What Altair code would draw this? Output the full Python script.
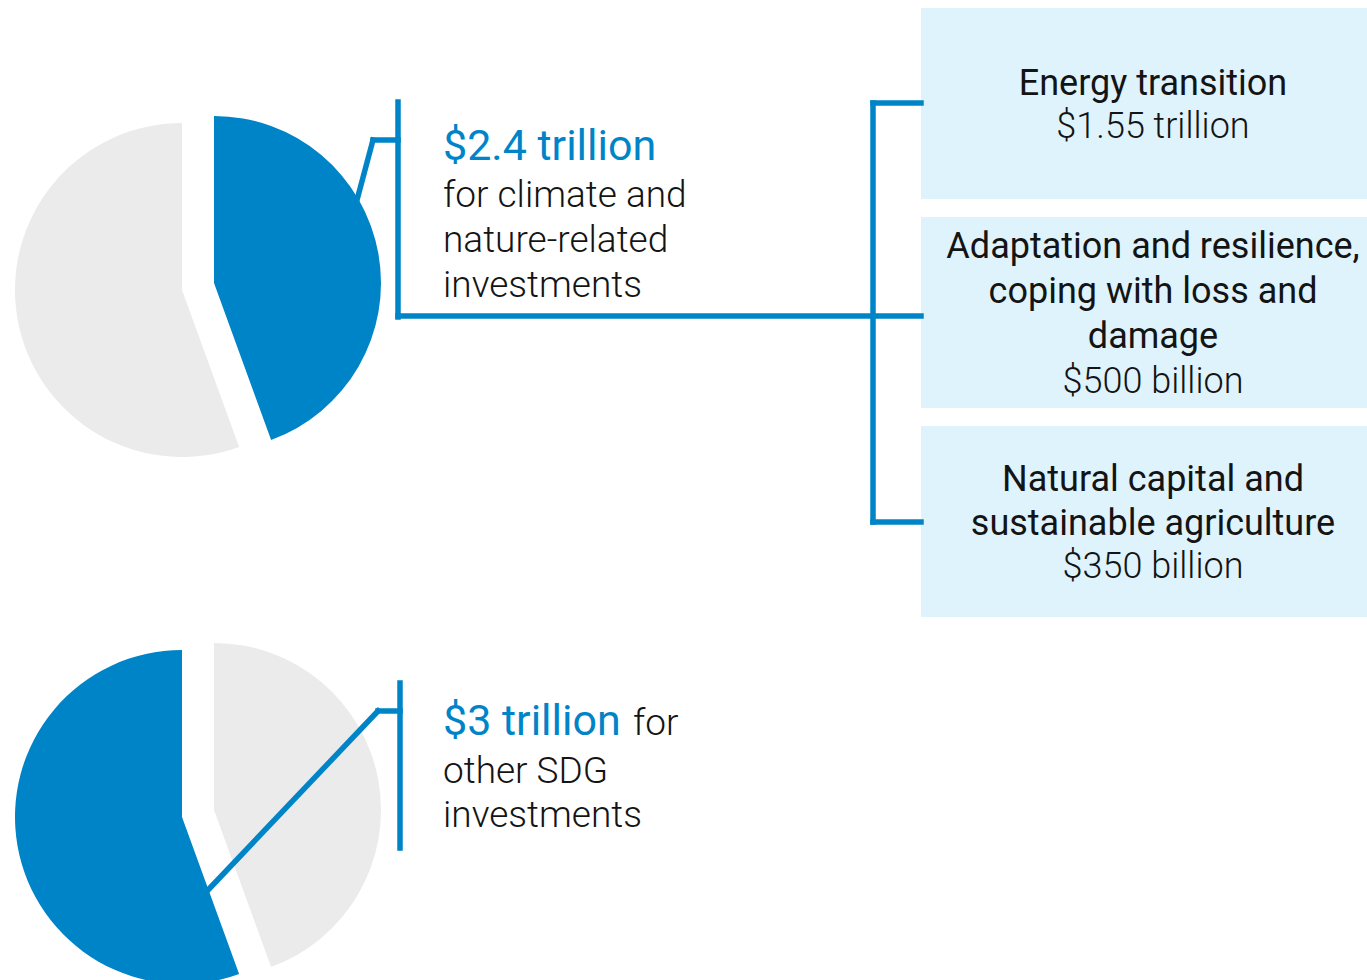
import altair as alt
import pandas as pd

# ---- data ----
categories = ["climate", "other"]
values = [2.4, 3.0]          # trillion USD
slice_order = [1, 2]

headline_top = "$2.4 trillion"
desc_top = ["for climate and", "nature-related", "investments"]
headline_bottom = "$3 trillion"
desc_bottom_first = "for"
desc_bottom = ["other SDG", "investments"]

box_titles = [
    ["Energy transition"],
    ["Adaptation and resilience,", "coping with loss and", "damage"],
    ["Natural capital and", "sustainable agriculture"],
]
box_values = ["$1.55 trillion", "$500 billion", "$350 billion"]

# ---- styles ----
BLUE = "#0084c8"
GRAY = "#ebebeb"
BOX = "#dff3fc"
INK = "#141414"
FONT = "Roboto"
LW = 5.5

df = pd.DataFrame({"category": categories, "value": values, "order": slice_order})
one = pd.DataFrame({"k": [0]})


def slice_layer(cx, cy, show, color):
    return alt.Chart(df).mark_arc(radius=167).encode(
        theta=alt.Theta("value:Q", stack=True),
        order=alt.Order("order:Q"),
        detail="category:N",
        x=alt.value(cx),
        y=alt.value(cy),
        color=alt.condition(f"datum.category == '{show}'", alt.value(color), alt.value("transparent")),
    )


def seg(x1, y1, x2, y2):
    return alt.Chart(one).mark_rule(color=BLUE, strokeWidth=LW, strokeCap="square").encode(
        x=alt.value(x1), y=alt.value(y1), x2=alt.value(x2), y2=alt.value(y2)
    )


def rect(x1, y1, x2, y2):
    return alt.Chart(one).mark_rect(color=BOX).encode(
        x=alt.value(x1), y=alt.value(y1), x2=alt.value(x2), y2=alt.value(y2)
    )


def txt(x, y, text, size=36, weight=300, color=INK, align="left", lh=45):
    return alt.Chart(one).mark_text(
        align=align, baseline="alphabetic", fontSize=size, fontWeight=weight,
        font=FONT, color=color, lineHeight=lh,
    ).encode(x=alt.value(x), y=alt.value(y), text=alt.value(text))


layers = [
    # boxes
    rect(921, 8, 1367, 199),
    rect(921, 217, 1367, 408),
    rect(921, 426, 1367, 617),
    # top pie (climate highlighted)
    slice_layer(214, 283, "climate", BLUE),
    slice_layer(182, 290, "other", GRAY),
    # bottom pie (other SDG highlighted)
    slice_layer(214, 810, "climate", GRAY),
    slice_layer(182, 817, "other", BLUE),
    # top connectors
    seg(353, 215, 373, 140),
    seg(373, 140, 398, 140),
    seg(398, 102, 398, 317),
    seg(398, 316, 921, 316),
    seg(873, 103, 873, 522),
    seg(873, 103, 921, 103),
    seg(873, 522, 921, 522),
    # bottom connectors
    seg(209, 889, 378, 711),
    seg(378, 711, 400, 711),
    seg(400, 683, 400, 848),
    # left texts
    txt(443, 160, headline_top, size=43, weight=400, color=BLUE),
    txt(443, 207, desc_top, size=37),
    txt(443, 735, headline_bottom, size=43, weight=400, color=BLUE),
    txt(633, 735, desc_bottom_first, size=37),
    txt(443, 783, desc_bottom, size=37, lh=44),
    # box texts
    txt(1153, 95, box_titles[0], weight=400, align="center"),
    txt(1153, 138, box_values[0], align="center"),
    txt(1153, 258, box_titles[1], weight=400, align="center"),
    txt(1153, 393, box_values[1], align="center"),
    txt(1153, 491, box_titles[2], weight=400, align="center", lh=44),
    txt(1153, 578, box_values[2], align="center"),
]

chart = alt.layer(*layers).properties(
    width=1367, height=980, padding=0,
    autosize=alt.AutoSizeParams(type="none"),
    background="white",
).configure_view(stroke=None)

chart.save("out.html", embed_options={"renderer": "svg", "actions": False})
